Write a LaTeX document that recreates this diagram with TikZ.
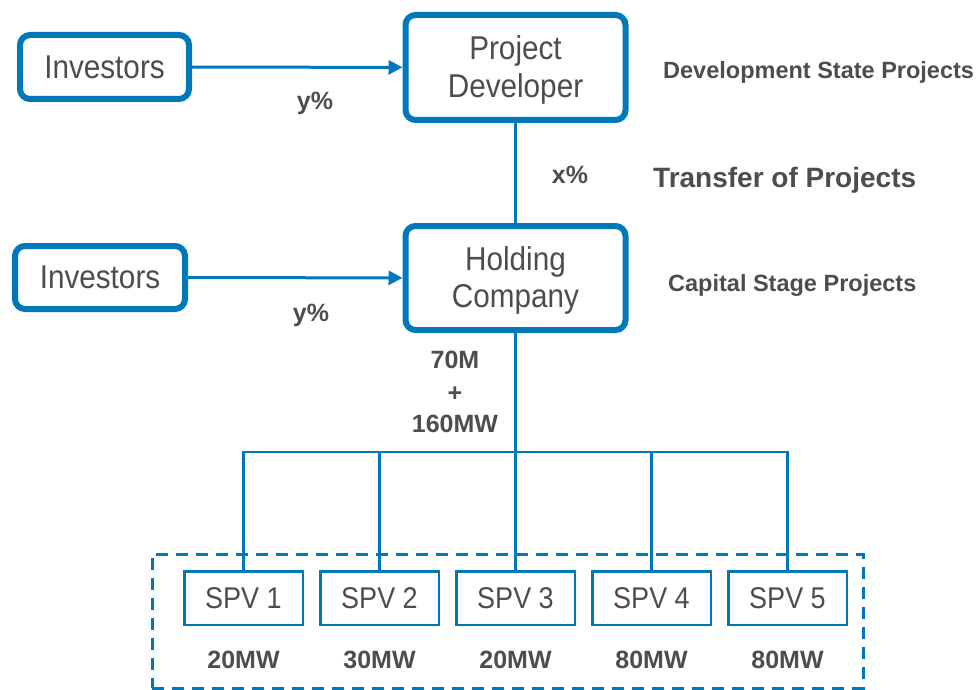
\documentclass[tikz,border=0pt]{standalone}
\usepackage{fontspec}
\setmainfont{Liberation Sans}
\newfontfamily\boxfont[FakeStretch=0.9]{Liberation Sans}
\usetikzlibrary{arrows.meta}
\definecolor{cblue}{RGB}{0,120,185}
\definecolor{cgray}{RGB}{77,77,77}
\tikzset{
  bigbox/.style={draw=cblue, line width=6pt, rounded corners=10pt, fill=white,
    text=cgray, align=center, inner sep=0pt,
    font=\boxfont\fontsize{33}{37.5}\selectfont},
  spvbox/.style={draw=cblue, line width=2.5pt, fill=white, text=cgray, inner sep=0pt,
    minimum width=118.5pt, minimum height=53.5pt,
    font=\boxfont\fontsize{30}{34}\selectfont},
  grpbox/.style={draw=cblue, line width=3pt, dash pattern=on 12pt off 8pt,
    minimum width=711pt, minimum height=134pt, inner sep=0pt},
  arr/.style={draw=cblue, line width=3pt, -{Triangle[length=14pt,width=14pt]}},
  link/.style={draw=cblue, line width=2.5pt},
  tree/.style={draw=cblue, line width=2.5pt},
  lbl/.style={text=cgray, inner sep=0pt, font=\bfseries\fontsize{23.5}{27}\selectfont},
  numlbl/.style={text=cgray, inner sep=0pt, font=\bfseries\fontsize{25}{29}\selectfont},
  biglbl/.style={text=cgray, inner sep=0pt, font=\bfseries\fontsize{28}{32}\selectfont},
}
\begin{document}
\begin{tikzpicture}[x=1pt,y=-1pt]
\useasboundingbox (0,0) rectangle (979,690);

% main boxes
\node[bigbox, minimum width=169pt, minimum height=64pt] (inv1) at (104.5,67) {Investors};
\node[bigbox, minimum width=170pt, minimum height=63pt] (inv2) at (100,277.5) {Investors};
\node[bigbox, minimum width=220pt, minimum height=105pt, text depth=2pt] (pd) at (515.5,67.5) {Project\\Developer};
\node[bigbox, minimum width=220pt, minimum height=104pt, text depth=2pt] (hc) at (515.5,278) {Holding\\Company};

% group box and SPVs
\node[grpbox] (grp) at (507.5,621) {};
\node[spvbox] (spv1) at (243.5,598) {SPV 1};
\node[spvbox] (spv2) at (379.5,598) {SPV 2};
\node[spvbox] (spv3) at (515.5,598) {SPV 3};
\node[spvbox] (spv4) at (651.5,598) {SPV 4};
\node[spvbox] (spv5) at (787.5,598) {SPV 5};

% connectors
\draw[arr] (inv1) -- (pd);
\draw[arr] (inv2) -- (hc);
\draw[link] (pd.south) -- (hc.north);
\coordinate (bus) at (515.5,452);
\draw[tree] (hc.south) -- (bus);
\foreach \i in {1,...,5} { \draw[tree] (bus) -| (spv\i.north); }

% labels
\node[numlbl, anchor=base] (y1) at (315,110) {y\%};
\node[numlbl, anchor=base] (y2) at (311,321) {y\%};
\node[numlbl, anchor=base] (xp) at (570,183) {x\%};
\node[lbl, anchor=base west] (dev) at (663,79) {Development State Projects};
\node[biglbl, anchor=base west] (tr) at (653,187) {Transfer of Projects};
\node[lbl, anchor=base west] (cap) at (668,291) {Capital Stage Projects};
\node[numlbl, anchor=base] (m70) at (455,368) {70M};
\node[numlbl] (plus) at (455,394) {+};
\node[numlbl, anchor=base] (m160) at (455,432) {160MW};
\node[numlbl, anchor=base] (w1) at (243.5,668) {20MW};
\node[numlbl, anchor=base] (w2) at (379.5,668) {30MW};
\node[numlbl, anchor=base] (w3) at (515.5,668) {20MW};
\node[numlbl, anchor=base] (w4) at (651.5,668) {80MW};
\node[numlbl, anchor=base] (w5) at (787.5,668) {80MW};
\end{tikzpicture}
\end{document}
